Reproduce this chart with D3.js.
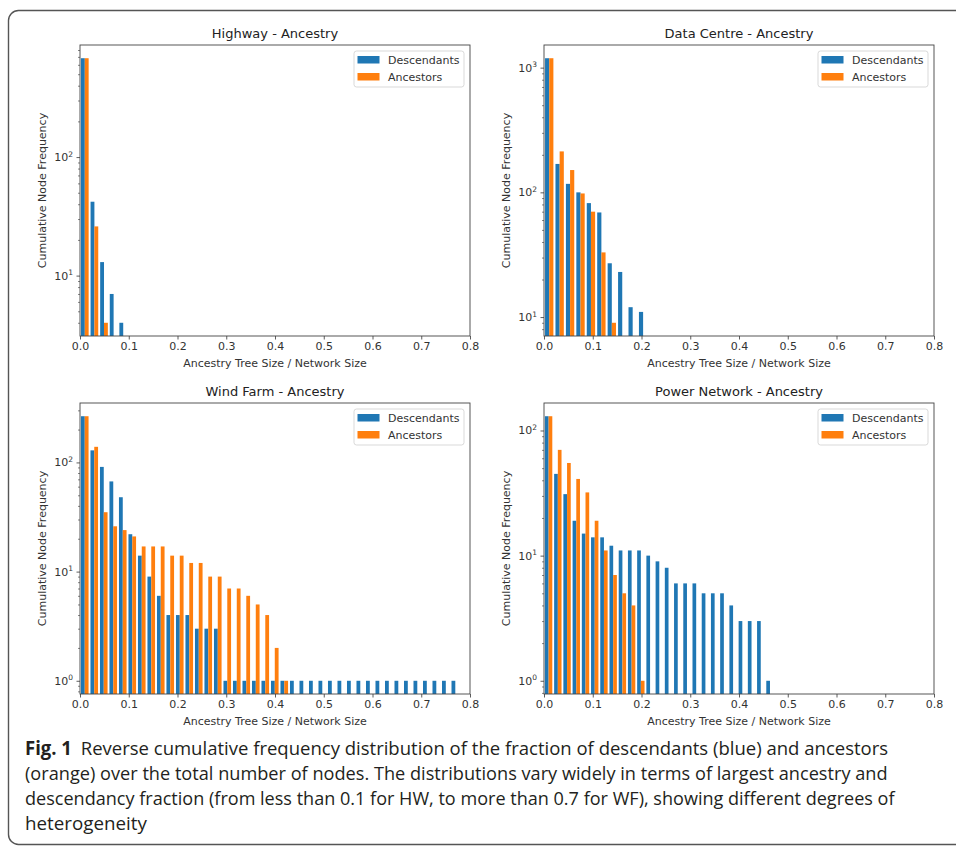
<!DOCTYPE html>
<html>
<head>
<meta charset="utf-8">
<title>Ancestry tree size distributions</title>
<script src="https://cdn.jsdelivr.net/npm/d3@7"></script>
<style>
  body { margin: 0; background: #fff; }
  svg { display: block; }
  .tick text, .tick-label { font-family: "DejaVu Sans", sans-serif; font-size: 11px; fill: #333; }
  .axis-label, .legend-text { font-family: "DejaVu Sans", sans-serif; font-size: 11px; fill: #333; }
  .panel-title { font-family: "DejaVu Sans", sans-serif; font-size: 13px; fill: #222; }
  .caption { font-family: "Open Sans", "Noto Sans", sans-serif; font-size: 19px; fill: #231f20; }
</style>
</head>
<body>
<svg id="fig" width="956" height="847"></svg>
<script>
// x axis ticks shared by all four panels
var xTicks = [0, 0.1, 0.2, 0.3, 0.4, 0.5, 0.6, 0.7, 0.8];
var seriesNames = ['Descendants', 'Ancestors'];
var seriesColors = ['#1f77b4', '#ff7f0e'];

// reverse cumulative counts per bin
var highwayBinWidth = 0.0197;
var highwayDesc = [682, 42, 13, 7, 4];
var highwayAnc = [682, 26, 4];

var dataCentreBinWidth = 0.0214;
var dataCentreDesc = [1190, 169, 117, 100, 82, 69, 27, 23, 12, 11];
var dataCentreAnc = [1190, 213, 151, 98, 70, 33, 9];

var windFarmBinWidth = 0.01949;
var windFarmDesc = [265, 129, 91, 67, 48, 22, 14, 9, 6, 4, 4, 4, 3, 3, 3,
  1, 1, 1, 1, 1, 1, 1, 1, 1, 1, 1, 1, 1, 1, 1, 1, 1, 1, 1, 1, 1, 1, 1, 1, 1];
var windFarmAnc = [265, 139, 35, 26, 24, 21, 17, 17, 17, 14, 14, 12, 12, 9, 9, 7, 7, 6, 5, 4, 2, 1];

var powerBinWidth = 0.01892;
var powerDesc = [130, 45, 31, 19, 15, 14, 14, 12, 11, 11, 11, 10, 9, 8, 6, 6, 6, 5, 5, 5, 4, 3, 3, 3, 1];
var powerAnc = [130, 70, 55, 41, 32, 19, 11, 7, 5, 4, 1];

var captionLines = [
  'Reverse cumulative frequency distribution of the fraction of descendants (blue) and ancestors',
  '(orange) over the total number of nodes. The distributions vary widely in terms of largest ancestry and',
  'descendancy fraction (from less than 0.1 for HW, to more than 0.7 for WF), showing different degrees of',
  'heterogeneity'
];

var svg = d3.select('#fig');
var W = 390, H = 291;  // axes size

var panels = [
  { title: 'Highway - Ancestry', series: [highwayDesc, highwayAnc], bw: highwayBinWidth, left: 80, top: 45 },
  { title: 'Data Centre - Ancestry', series: [dataCentreDesc, dataCentreAnc], bw: dataCentreBinWidth, left: 544, top: 45 },
  { title: 'Wind Farm - Ancestry', series: [windFarmDesc, windFarmAnc], bw: windFarmBinWidth, left: 80, top: 403 },
  { title: 'Power Network - Ancestry', series: [powerDesc, powerAnc], bw: powerBinWidth, left: 544, top: 403 }
];

// outer figure frame
svg.append('rect')
  .attr('x', 8.5).attr('y', 10.5)
  .attr('width', 1000).attr('height', 834)
  .attr('rx', 10)
  .attr('fill', 'none')
  .attr('stroke', '#555')
  .attr('stroke-width', 1.4);

panels.forEach(function (p, pi) {
  var g = svg.append('g').attr('transform', 'translate(' + p.left + ',' + p.top + ')');

  var x = d3.scaleLinear().domain([0, 0.8]).range([0, W]);

  // log limits like matplotlib: data range padded by 5% in log space
  var all = p.series[0].concat(p.series[1]);
  var lo = Math.log10(d3.min(all)), hi = Math.log10(d3.max(all));
  var pad = (hi - lo) * 0.05;
  var y = d3.scaleLog().domain([Math.pow(10, lo - pad), Math.pow(10, hi + pad)]).range([H, 0]);

  var clipId = 'clip' + pi;
  g.append('clipPath').attr('id', clipId)
    .append('rect').attr('width', W).attr('height', H);

  var bars = g.append('g').attr('clip-path', 'url(#' + clipId + ')');
  p.series.forEach(function (vals, si) {
    bars.selectAll('.bar' + si)
      .data(vals)
      .enter()
      .append('rect')
      .attr('fill', seriesColors[si])
      .attr('x', function (d, i) { return x(i * p.bw + p.bw * (0.1 + 0.4 * si)); })
      .attr('width', x(p.bw * 0.4) - x(0))
      .attr('y', function (d) { return y(d); })
      .attr('height', function (d) { return H - y(d); });
  });

  // x axis
  var xAxis = g.append('g')
    .attr('transform', 'translate(0,' + H + ')')
    .call(d3.axisBottom(x).tickValues(xTicks).tickFormat(d3.format('.1f'))
      .tickSize(3.5).tickPadding(3).tickSizeOuter(0));
  xAxis.select('.domain').remove();
  xAxis.selectAll('line').attr('stroke', '#333').attr('stroke-width', 0.8);

  // y axis: majors and minors
  var dom = y.domain();
  var majors = [], minors = [];
  for (var k = Math.floor(Math.log10(dom[0])); k <= Math.ceil(Math.log10(dom[1])); k++) {
    for (var m = 1; m < 10; m++) {
      var v = m * Math.pow(10, k);
      if (v < dom[0] || v > dom[1]) continue;
      (m === 1 ? majors : minors).push(v);
    }
  }
  var yMinor = g.append('g')
    .call(d3.axisLeft(y).tickValues(minors).tickFormat('').tickSize(2).tickSizeOuter(0));
  yMinor.select('.domain').remove();
  yMinor.selectAll('line').attr('stroke', '#333').attr('stroke-width', 0.6);

  var yMajor = g.append('g')
    .call(d3.axisLeft(y).tickValues(majors).tickFormat('').tickSize(3.5).tickSizeOuter(0));
  yMajor.select('.domain').remove();
  yMajor.selectAll('line').attr('stroke', '#333').attr('stroke-width', 0.8);

  majors.forEach(function (v) {
    var t = g.append('text')
      .attr('class', 'tick-label')
      .attr('text-anchor', 'end')
      .attr('x', -7)
      .attr('y', y(v) + 4);
    t.append('tspan').text('10');
    t.append('tspan')
      .attr('dy', -4.5)
      .attr('font-size', '7.5px')
      .text(String(Math.round(Math.log10(v))));
  });

  // spines
  g.append('rect')
    .attr('width', W).attr('height', H)
    .attr('fill', 'none')
    .attr('stroke', '#444')
    .attr('stroke-width', 0.9);

  // titles and labels
  g.append('text')
    .attr('class', 'panel-title')
    .attr('text-anchor', 'middle')
    .attr('x', W / 2).attr('y', -7.5)
    .text(p.title);

  g.append('text')
    .attr('class', 'axis-label')
    .attr('text-anchor', 'middle')
    .attr('x', W / 2).attr('y', H + 31)
    .text('Ancestry Tree Size / Network Size');

  g.append('text')
    .attr('class', 'axis-label')
    .attr('text-anchor', 'middle')
    .attr('transform', 'translate(-34,' + (H / 2) + ') rotate(-90)')
    .text('Cumulative Node Frequency');

  // legend, upper right
  var lg = g.append('g').attr('transform', 'translate(' + (W - 116) + ',6)');
  lg.append('rect')
    .attr('width', 110).attr('height', 36)
    .attr('rx', 2.5)
    .attr('fill', 'white').attr('fill-opacity', 0.8)
    .attr('stroke', '#d5d5d5').attr('stroke-width', 0.9);
  seriesNames.forEach(function (name, si) {
    lg.append('rect')
      .attr('x', 3.5).attr('y', 5 + si * 17)
      .attr('width', 22).attr('height', 7.5)
      .attr('fill', seriesColors[si]);
    lg.append('text')
      .attr('class', 'legend-text')
      .attr('x', 34).attr('y', 12.5 + si * 17)
      .text(name);
  });
});

// caption, squeezed horizontally to the narrow journal face
var capTargets = [880, 888, 895, 147];
var capBase = [755, 780, 805, 830];
captionLines.forEach(function (line, i) {
  var cg = svg.append('g').attr('transform', 'translate(25,' + capBase[i] + ')');
  var t = cg.append('text').attr('class', 'caption');
  if (i === 0) {
    t.append('tspan').attr('font-weight', 'bold').text('Fig. 1');
    t.append('tspan').attr('dx', 9).text(line);
  } else {
    t.text(line);
  }
  var natural = t.node().getComputedTextLength();
  t.attr('transform', 'scale(' + ((capTargets[i] - 25) / natural) + ',1)');
});
</script>
</body>
</html>
